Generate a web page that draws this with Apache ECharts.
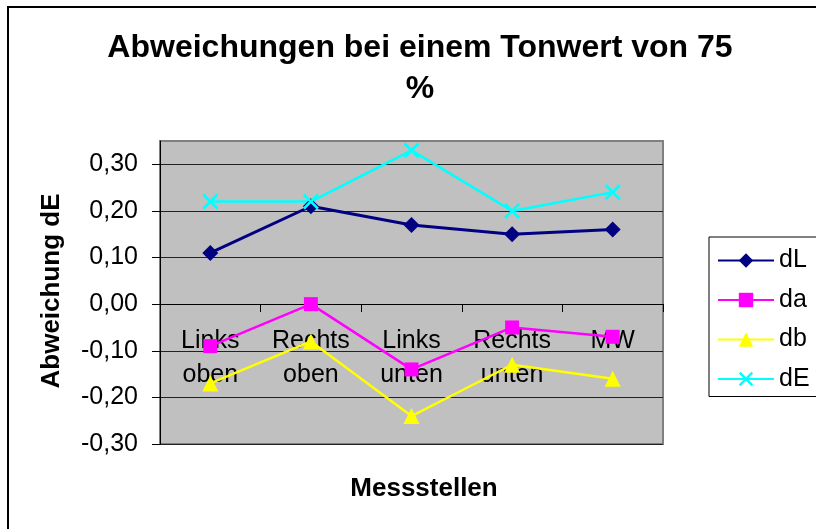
<!DOCTYPE html>
<html>
<head>
<meta charset="utf-8">
<script src="https://cdn.jsdelivr.net/npm/echarts@6/dist/echarts.min.js"></script>
<style>
html,body{margin:0;padding:0;background:#fff;}
#chart{width:816px;height:529px;}
</style>
</head>
<body>
<div id="chart"></div>
<script>
var categories = ['Links\noben', 'Rechts\noben', 'Links\nunten', 'Rechts\nunten', 'MW'];
var dL = [0.11, 0.21, 0.17, 0.15, 0.16];
var da = [-0.09, 0.00, -0.14, -0.05, -0.07];
var db = [-0.17, -0.08, -0.24, -0.13, -0.16];
var dE = [0.22, 0.22, 0.33, 0.20, 0.24];
var yTicks = [-0.3, -0.2, -0.1, 0, 0.1, 0.2, 0.3];

var FONT = 'Liberation Sans, Arial, sans-serif';
var xSymbol = 'path://M0,1.2L1.2,0L5,3.8L8.8,0L10,1.2L6.2,5L10,8.8L8.8,10L5,6.2L1.2,10L0,8.8L3.8,5Z';

var chart = echarts.init(document.getElementById('chart'));
chart.setOption({
  backgroundColor: '#ffffff',
  animation: false,
  title: {
    text: 'Abweichungen bei einem Tonwert von 75\n%',
    left: 415,
    top: 23,
    textAlign: 'center',
    textStyle: {fontFamily: FONT, fontSize: 32, fontWeight: 'bold', color: '#000', lineHeight: 41}
  },
  graphic: [
    {type: 'rect', z: -10, shape: {x: 8, y: 7, width: 900, height: 600}, style: {fill: 'none', stroke: '#000', lineWidth: 2}},
    {type: 'text', x: 52, y: 291, rotation: Math.PI / 2,
      style: {text: 'Abweichung dE', fontFamily: FONT, fontSize: 26, fontWeight: 'bold', fill: '#000', align: 'center', verticalAlign: 'middle'}},
    {type: 'text', x: 424, y: 489,
      style: {text: 'Messstellen', fontFamily: FONT, fontSize: 26, fontWeight: 'bold', fill: '#000', align: 'center', verticalAlign: 'middle'}}
  ],
  legend: {
    left: 709,
    top: 237,
    orient: 'vertical',
    padding: [11, 10, 5, 8],
    itemWidth: 56,
    itemHeight: 18,
    itemGap: 14.5,
    borderColor: '#000',
    borderWidth: 1,
    backgroundColor: '#fff',
    textStyle: {fontFamily: FONT, fontSize: 25, color: '#000'},
    data: ['dL', 'da', 'db', 'dE']
  },
  grid: {
    left: 160, right: 153, top: 141, bottom: 85,
    show: true, backgroundColor: '#C0C0C0', borderColor: '#808080', borderWidth: 2
  },
  xAxis: {
    type: 'category',
    data: categories,
    boundaryGap: true,
    offset: -140,
    axisLine: {onZero: false, lineStyle: {color: '#000', width: 1}},
    axisTick: {show: true, length: 8, lineStyle: {color: '#000'}},
    axisLabel: {interval: 0, fontFamily: FONT, fontSize: 25, lineHeight: 34, margin: 20, color: '#000'},
    splitLine: {show: false}
  },
  yAxis: {
    type: 'value',
    min: -0.3,
    max: 0.35,
    interval: 0.1,
    axisLine: {show: true, lineStyle: {color: '#000', width: 1}},
    axisTick: {show: true, length: 8, lineStyle: {color: '#000'}, customValues: yTicks},
    axisLabel: {fontFamily: FONT, fontSize: 25, color: '#000', margin: 22, customValues: yTicks,
      formatter: function (v) { return v.toFixed(2).replace('.', ','); }},
    splitLine: {show: true, lineStyle: {color: '#222', width: 1}}
  },
  series: [
    {name: 'dL', type: 'line', data: dL, symbol: 'diamond', symbolSize: 16, z: 3,
      lineStyle: {color: '#000080', width: 3}, itemStyle: {color: '#000080'}},
    {name: 'da', type: 'line', data: da, symbol: 'rect', symbolSize: 14, z: 3,
      lineStyle: {color: '#FF00FF', width: 2.5}, itemStyle: {color: '#FF00FF'}},
    {name: 'db', type: 'line', data: db, symbol: 'triangle', symbolSize: 16, z: 3,
      lineStyle: {color: '#FFFF00', width: 2.5}, itemStyle: {color: '#FFFF00'}},
    {name: 'dE', type: 'line', data: dE, symbol: xSymbol, symbolSize: 16, z: 3,
      lineStyle: {color: '#00FFFF', width: 2.5}, itemStyle: {color: '#00FFFF'}}
  ]
});
</script>
</body>
</html>
